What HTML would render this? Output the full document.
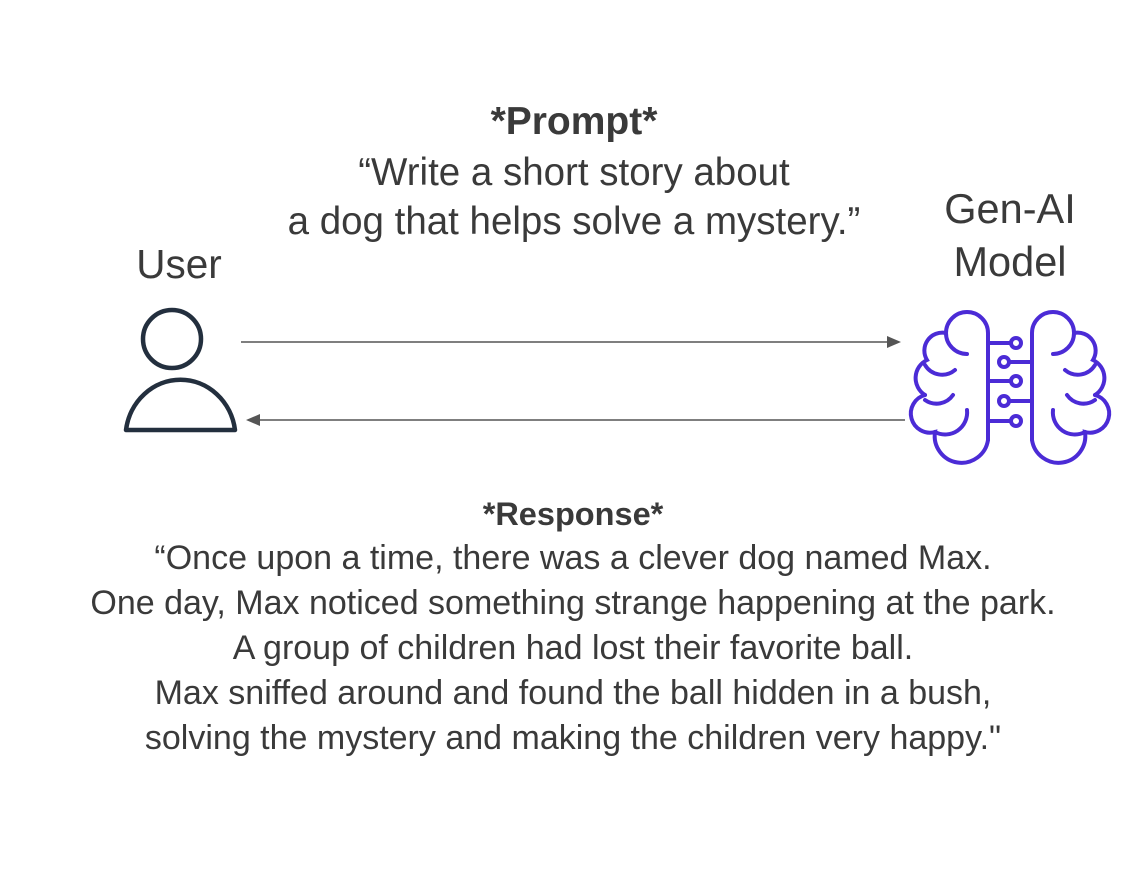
<!DOCTYPE html>
<html><head><style>
html,body{margin:0;padding:0;background:#fff;}
body{width:1138px;height:878px;position:relative;overflow:hidden;font-family:"Liberation Sans",sans-serif;color:#3a3a3a;}
.t{position:absolute;white-space:nowrap;text-align:center;font-size:32px;line-height:45px;}
</style></head><body>
<div class="t" style="left:0;width:1148px;top:99px;font-weight:bold;font-size:39px;">*Prompt*</div>
<div class="t" style="left:0;width:1148px;top:148px;font-size:38.5px;line-height:49px;">“Write a short story about<br>a dog that helps solve a mystery.”</div>
<div class="t" style="left:79px;width:200px;top:242px;font-size:40.5px;">User</div>
<div class="t" style="left:910px;width:200px;top:182px;font-size:41.5px;line-height:53px;">Gen-AI<br>Model</div>
<div class="t" style="left:0;width:1146px;top:492px;font-weight:bold;font-size:32.5px;">*Response*</div>
<div class="t" style="left:0;width:1146px;top:536px;font-size:34px;line-height:45px;">“Once upon a time, there was a clever dog named Max.<br>One day, Max noticed something strange happening at the park.<br>A group of children had lost their favorite ball.<br>Max sniffed around and found the ball hidden in a bush,<br>solving the mystery and making the children very happy."</div>
<svg width="1138" height="878" style="position:absolute;left:0;top:0">
<g stroke="#555" stroke-width="1.5" fill="#555">
<line x1="241" y1="342" x2="890" y2="342"/><polygon points="901,342 887,336 887,348" stroke="none"/>
<line x1="905" y1="420" x2="258" y2="420"/><polygon points="246,420 260,414 260,426" stroke="none"/>
</g>
<g stroke="#232f3e" stroke-width="4.5" fill="none">
<circle cx="172" cy="339" r="29"/>
<path d="M126,430 L235,430 A55,58 0 0 0 126,430 Z" stroke-linejoin="round"/>
</g>
<g stroke="#4b2bd6" stroke-width="4" fill="none" stroke-linecap="round">
<g id="h">
<path d="M988,440 L988,333 A21,21 0 0 0 946,333 A21,21 0 0 0 967,354"/>
<path d="M946,333 A18,18 0 0 0 927,360 A20,20 0 0 0 925,395"/>
<path d="M955,370 A20,20 0 0 1 925,365"/>
<path d="M925,395 A18,18 0 0 0 935,432 A20,20 0 0 0 988,440"/>
<path d="M953,395 A20,20 0 0 1 925,400"/>
<path d="M967,410 A22,22 0 0 1 935,432"/>
</g>
<use href="#h" transform="translate(2020,0) scale(-1,1)"/>
<line x1="988" y1="343" x2="1011" y2="343"/><circle cx="1016" cy="343" r="5"/>
<line x1="1032" y1="362" x2="1009" y2="362"/><circle cx="1004" cy="362" r="5"/>
<line x1="988" y1="381" x2="1011" y2="381"/><circle cx="1016" cy="381" r="5"/>
<line x1="1032" y1="401" x2="1009" y2="401"/><circle cx="1004" cy="401" r="5"/>
<line x1="988" y1="421" x2="1011" y2="421"/><circle cx="1016" cy="421" r="5"/>
</g>
</svg>
</body></html>
